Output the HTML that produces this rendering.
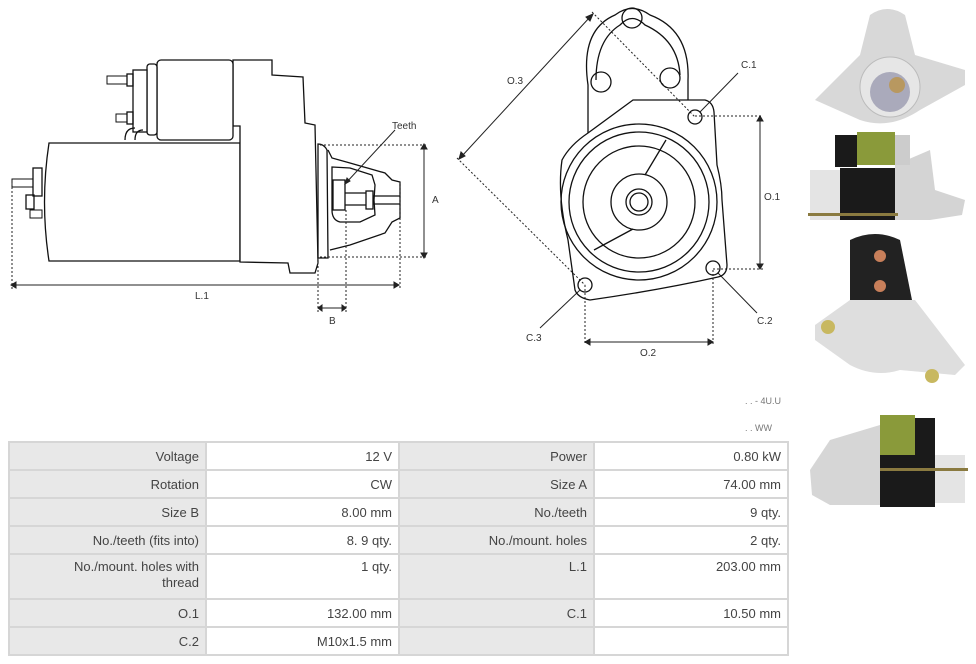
<!DOCTYPE html>
<html><head><meta charset="utf-8"><style>
html,body{margin:0;padding:0;background:#fff;}
body{width:976px;height:664px;position:relative;overflow:hidden;font-family:"Liberation Sans",sans-serif;}
svg{position:absolute;left:0;top:0;}
table{position:absolute;left:8px;top:441px;border-collapse:collapse;font-family:"Liberation Sans",sans-serif;font-size:13px;color:#444;}
td{border:2px solid #d6d6d6;text-align:right;padding:0 6px;height:26px;vertical-align:middle;}
td.l{background:#e8e8e8;}
td.v{background:#fff;}
tr.tall td{height:39px;vertical-align:top;padding-top:4px;line-height:16px;}
</style></head><body>
<svg width="976" height="664" viewBox="0 0 976 664" xmlns="http://www.w3.org/2000/svg">
<g fill="none" stroke="#111" stroke-width="1.3">
 <path d="M49,143 L240,143 L240,261 L49,261 Q40,202 49,143 Z" fill="#fff"/>
 <path d="M233,60 L272,60 L272,75 L303,77 L305,123 L315,125 L318,263 L315,273 L290,273 L288,263 L240,262 L240,126 L233,126 Z" fill="#fff"/>
 <rect x="157" y="60" width="76" height="80" rx="4" fill="#fff"/>
 <rect x="147" y="64" width="10" height="71" rx="3" fill="#fff"/>
 <rect x="133" y="70" width="14" height="62" fill="#fff"/>
 <rect x="127" y="74" width="6" height="12"/><rect x="127" y="112" width="6" height="12"/>
 <path d="M107,76 h20 v8 h-20 z M116,114 h11 v8 h-11 z" stroke-width="1"/>
 <path d="M125,140 q0,-12 10,-12 M135,140 q0,-10 8,-10"/>
 <rect x="33" y="168" width="9" height="28"/><rect x="26" y="195" width="8" height="14"/>
 <path d="M12,179 h21 v8 h-21 z M30,210 h12 v8 h-12 z" stroke-width="1"/>
 <path d="M318,144 Q324,144 327,150 L328,258 L318,258 Z" fill="#fff"/>
 <path d="M328,150 L332,158 L350,163 L385,173 L392,180 L400,182 L400,218 L392,222 L385,233 L350,245 L330,250"/>
 <path d="M332,167 L350,168 L372,175 L375,185 L374,200 L375,215 L360,222 L340,222 Q332,220 332,210 Z"/>
 <rect x="333" y="180" width="12" height="30"/><rect x="366" y="191" width="7" height="18"/>
 <path d="M345,193 h21 M345,205 h21 M373,196 h27 M373,204 h27"/>
</g>
<g fill="none" stroke="#222" stroke-width="1" stroke-dasharray="2,2">
 <path d="M320,145 H427 M320,257 H427 M12,183 V290 M400,182 V290 M318,258 V312 M346,210 V312"/>
 <path d="M592,12 L695,117 M457,158 L585,285 M695,116 H763 M713,269 H763 M585,285 V345 M713,270 V345"/>
</g>
<g stroke="#222" stroke-width="1" fill="#222">
 <line x1="424" y1="149" x2="424" y2="253"/><path d="M421,149 L424,144 L427,149 Z M421,253 L424,258 L427,253 Z"/>
 <line x1="16" y1="285" x2="394" y2="285"/><path d="M16,282 L11,285 L16,288 Z M394,282 L399,285 L394,288 Z"/>
 <line x1="322" y1="308" x2="342" y2="308"/><path d="M322,305 L318,308 L322,311 Z M342,305 L346,308 L342,311 Z"/>
 <line x1="395" y1="130" x2="345" y2="184"/><path d="M345,184 L347,178 L350,181 Z"/>
 <line x1="462" y1="156" x2="590" y2="17"/><path d="M459,159 L461,152 L465,156 Z M593,14 L586,17 L590,21 Z"/>
 <line x1="760" y1="121" x2="760" y2="264"/><path d="M757,121 L760,116 L763,121 Z M757,264 L760,269 L763,264 Z"/>
 <line x1="590" y1="342" x2="708" y2="342"/><path d="M590,339 L585,342 L590,345 Z M708,339 L713,342 L708,345 Z"/>
 <line x1="738" y1="73" x2="700" y2="112"/><line x1="757" y1="313" x2="718" y2="273"/><line x1="540" y1="328" x2="580" y2="290"/>
</g>
<g fill="none" stroke="#111" stroke-width="1.3">
 <path d="M588,133 L588,85 Q580,30 615,15 Q632,2 650,15 Q690,30 688,80 L688,100"/>
 <path d="M596,80 Q596,40 620,25 Q632,12 645,25 Q678,40 680,75"/>
 <path d="M633,100 L705,100 Q713,102 714,112 L717,165 Q722,185 722,200 L727,265 Q727,275 718,277 Q660,290 590,300 Q578,298 575,290 L568,240 Q557,195 562,160 Q570,145 588,133 Z"/>
 <circle cx="639" cy="202" r="78"/><circle cx="639" cy="202" r="70"/><circle cx="639" cy="202" r="56"/>
 <circle cx="639" cy="202" r="28"/><circle cx="639" cy="202" r="13"/><circle cx="639" cy="202" r="9"/>
 <path d="M666,140 L645,175 M633,229 L594,250"/>
 <circle cx="632" cy="18" r="10"/><circle cx="601" cy="82" r="10"/><circle cx="670" cy="78" r="10"/>
 <circle cx="695" cy="117" r="7"/><circle cx="713" cy="268" r="7"/><circle cx="585" cy="285" r="7"/>
</g>
<g font-family="Liberation Sans,sans-serif" font-size="10" fill="#333">
 <text x="392" y="129">Teeth</text><text x="432" y="203">A</text><text x="195" y="299">L.1</text><text x="329" y="324">B</text>
 <text x="507" y="84">O.3</text><text x="741" y="68">C.1</text><text x="764" y="200">O.1</text>
 <text x="757" y="324">C.2</text><text x="526" y="341">C.3</text><text x="640" y="356">O.2</text>
</g>
<text x="745" y="404" font-size="9" fill="#777" font-family="Liberation Sans,sans-serif">. . - 4U.U</text>
<text x="745" y="431" font-size="9" fill="#777" font-family="Liberation Sans,sans-serif">. .  WW</text>
<g>
 <path d="M815,100 L860,55 L870,15 Q887,3 905,15 L915,55 L965,70 L965,85 L920,110 Q890,130 860,120 Z" fill="#d8d8d8"/>
 <circle cx="890" cy="87" r="30" fill="#e6e6e6" stroke="#bbb"/><circle cx="890" cy="92" r="20" fill="#aab" /><circle cx="897" cy="85" r="8" fill="#b89860"/>
 <rect x="810" y="170" width="30" height="50" fill="#e4e4e4"/><rect x="840" y="168" width="55" height="52" fill="#1a1a1a"/>
 <path d="M895,165 L930,150 L935,190 L965,200 L962,215 L930,220 L895,220 Z" fill="#d4d4d4"/>
 <rect x="835" y="135" width="22" height="32" fill="#1a1a1a"/><rect x="857" y="132" width="38" height="33" fill="#8a9a3a"/>
 <rect x="895" y="135" width="15" height="30" fill="#ccc"/>
 <rect x="808" y="213" width="90" height="3" fill="#8a7a40"/>
 <path d="M850,240 Q875,228 900,240 L912,300 L850,300 Z" fill="#222"/>
 <circle cx="880" cy="256" r="6" fill="#c87f5a"/><circle cx="880" cy="286" r="6" fill="#c87f5a"/>
 <path d="M815,325 L850,300 L915,300 L965,365 L955,375 L900,370 Q875,378 850,365 L815,340 Z" fill="#dedede"/>
 <circle cx="828" cy="327" r="7" fill="#c8b860"/><circle cx="932" cy="376" r="7" fill="#c8b860"/>
 <path d="M810,470 L830,440 L880,425 L880,505 L830,505 L812,495 Z" fill="#d6d6d6"/>
 <rect x="880" y="415" width="35" height="40" fill="#8a9a3a"/><rect x="915" y="418" width="20" height="38" fill="#1a1a1a"/>
 <rect x="880" y="455" width="55" height="52" fill="#1a1a1a"/><rect x="935" y="455" width="30" height="48" fill="#e4e4e4"/>
 <rect x="880" y="468" width="88" height="3" fill="#8a7a40"/>
</g>
</svg>
<table>
<colgroup><col style="width:197px"><col style="width:193px"><col style="width:195px"><col style="width:194px"></colgroup>
<tr><td class="l">Voltage</td><td class="v">12 V</td><td class="l">Power</td><td class="v">0.80 kW</td></tr>
<tr><td class="l">Rotation</td><td class="v">CW</td><td class="l">Size A</td><td class="v">74.00 mm</td></tr>
<tr><td class="l">Size B</td><td class="v">8.00 mm</td><td class="l">No./teeth</td><td class="v">9 qty.</td></tr>
<tr><td class="l">No./teeth (fits into)</td><td class="v">8. 9 qty.</td><td class="l">No./mount. holes</td><td class="v">2 qty.</td></tr>
<tr class="tall"><td class="l">No./mount. holes with<br>thread</td><td class="v">1 qty.</td><td class="l">L.1</td><td class="v">203.00 mm</td></tr>
<tr><td class="l">O.1</td><td class="v">132.00 mm</td><td class="l">C.1</td><td class="v">10.50 mm</td></tr>
<tr><td class="l">C.2</td><td class="v">M10x1.5 mm</td><td class="l"></td><td class="v"></td></tr>
</table>
</body></html>
